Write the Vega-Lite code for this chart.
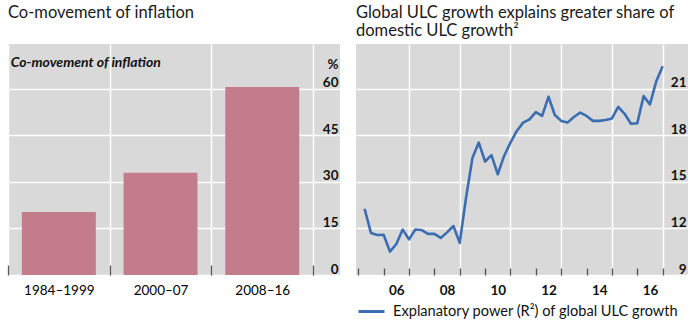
{
  "$schema": "https://vega.github.io/schema/vega-lite/v6.json",
  "background": "white",
  "padding": {"left": 7, "top": 4, "right": 0, "bottom": 0},
  "spacing": 16,
  "bounds": "flush",
  "config": {
    "font": "Lato",
    "view": {"fill": "#d9d9d9", "stroke": null},
    "axis": {"labelFont": "Lato", "titleFont": "Lato", "labelColor": "#111", "labelOverlap": false, "labelFlush": false, "domain": false},
    "axisBand": {"tickBand": "extent"},
    "title": {"font": "Lato", "anchor": "start", "fontSize": 16.5, "fontWeight": "normal", "color": "#1a1a1a", "frame": "group"}
  },
  "hconcat": [
    {
      "width": 332,
      "height": 231,
      "title": {"text": "Co-movement of inflation", "offset": 23},
      "data": {"values": [
        {"period": "1984–1999", "value": 20.3},
        {"period": "2000–07", "value": 33.0},
        {"period": "2008–16", "value": 60.6}
      ]},
      "layer": [
        {
          "mark": {"type": "bar", "color": "#C27C8C", "width": {"band": 0.727}},
          "encoding": {
            "x": {"field": "period", "type": "nominal", "sort": null,
              "scale": {"paddingInner": 0, "paddingOuter": 0.1323, "align": 0},
              "axis": {"title": null, "tickBand": "extent", "grid": true, "gridColor": "white", "gridWidth": 1.5, "gridOpacity": 1,
                "ticks": true, "tickSize": -10, "tickColor": "#555", "tickWidth": 1.3,
                "labelAngle": 0, "labelPadding": 18, "labelFontSize": 13.5, "labelColor": "#000"}},
            "y": {"field": "value", "type": "quantitative",
              "scale": {"domain": [0, 74.5], "nice": false},
              "axis": {"orient": "right", "values": [0, 15, 30, 45, 60], "grid": true, "gridColor": "white", "gridWidth": 1.5, "gridOpacity": 1,
                "ticks": false, "labelAlign": "right", "labelPadding": -2, "labelBaseline": "alphabetic", "labelOffset": -2,
                "labelFontSize": 13.5, "labelFontWeight": "bold",
                "title": "%", "titleAngle": 0, "titleAlign": "right", "titleBaseline": "middle", "titleX": -2, "titleY": 20,
                "titleFontSize": 13.5, "titleFontWeight": "bold", "titleColor": "#111"}}
          }
        },
        {
          "data": {"values": [{"label": "Co-movement of inflation"}]},
          "mark": {"type": "text", "align": "left", "baseline": "middle", "dx": -48, "fontStyle": "italic", "fontWeight": "bold", "fontSize": 14, "color": "#111"},
          "encoding": {
            "text": {"field": "label"},
            "x": {"datum": "1984–1999", "type": "nominal"},
            "y": {"datum": 68.5, "type": "quantitative"}
          }
        }
      ]
    },
    {
      "width": 332,
      "height": 231,
      "title": {"text": ["Global ULC growth explains greater share of", "domestic ULC growth²"], "offset": 5, "lineHeight": 18},
      "data": {"values": [
        {"t": 2005.25, "v": 13.26}, {"t": 2005.5, "v": 11.71}, {"t": 2005.75, "v": 11.58}, {"t": 2006.0, "v": 11.6},
        {"t": 2006.25, "v": 10.51}, {"t": 2006.5, "v": 11.0}, {"t": 2006.75, "v": 11.93}, {"t": 2007.0, "v": 11.3},
        {"t": 2007.25, "v": 11.93}, {"t": 2007.5, "v": 11.9}, {"t": 2007.75, "v": 11.65}, {"t": 2008.0, "v": 11.65},
        {"t": 2008.25, "v": 11.39}, {"t": 2008.5, "v": 11.75}, {"t": 2008.75, "v": 12.16}, {"t": 2009.0, "v": 11.07},
        {"t": 2009.25, "v": 14.0}, {"t": 2009.5, "v": 16.54}, {"t": 2009.75, "v": 17.54}, {"t": 2010.0, "v": 16.32},
        {"t": 2010.25, "v": 16.73}, {"t": 2010.5, "v": 15.5}, {"t": 2010.75, "v": 16.68}, {"t": 2011.0, "v": 17.54},
        {"t": 2011.25, "v": 18.29}, {"t": 2011.5, "v": 18.83}, {"t": 2011.75, "v": 19.04}, {"t": 2012.0, "v": 19.51},
        {"t": 2012.25, "v": 19.26}, {"t": 2012.5, "v": 20.5}, {"t": 2012.75, "v": 19.32}, {"t": 2013.0, "v": 18.94},
        {"t": 2013.25, "v": 18.83}, {"t": 2013.5, "v": 19.19}, {"t": 2013.75, "v": 19.47}, {"t": 2014.0, "v": 19.26},
        {"t": 2014.25, "v": 18.94}, {"t": 2014.5, "v": 18.94}, {"t": 2014.75, "v": 19.0}, {"t": 2015.0, "v": 19.1},
        {"t": 2015.25, "v": 19.84}, {"t": 2015.5, "v": 19.4}, {"t": 2015.75, "v": 18.76}, {"t": 2016.0, "v": 18.79},
        {"t": 2016.25, "v": 20.54}, {"t": 2016.5, "v": 20.0}, {"t": 2016.75, "v": 21.5}, {"t": 2017.0, "v": 22.47}
      ]},
      "mark": {"type": "line", "strokeWidth": 2.6, "strokeJoin": "round"},
      "encoding": {
        "x": {"field": "t", "type": "quantitative",
          "scale": {"domain": [2004.91, 2018.0], "nice": false, "zero": false},
          "axis": {"title": null, "values": [2005, 2006, 2007, 2008, 2009, 2010, 2011, 2012, 2013, 2014, 2015, 2016, 2017],
            "grid": true, "gridWidth": 1.5, "gridOpacity": 1,
            "gridColor": {"condition": {"test": "datum.value % 2 == 1 && datum.value > 2005", "value": "white"}, "value": "transparent"},
            "ticks": true, "tickSize": -7, "tickColor": "#555", "tickWidth": 1.3,
            "labelExpr": "datum.value % 2 == 0 && datum.value < 2017 ? substring(toString(datum.value), 2, 4) : ''",
            "labelOffset": 12.7, "labelPadding": 15, "labelFontSize": 13.5, "labelFontWeight": "bold", "labelAngle": 0}},
        "y": {"field": "v", "type": "quantitative",
          "scale": {"domain": [9, 23.9], "nice": false, "zero": false},
          "axis": {"orient": "right", "title": null, "values": [9, 12, 15, 18, 21], "grid": true, "gridColor": "white", "gridWidth": 1.5, "gridOpacity": 1,
            "ticks": false, "labelAlign": "right", "labelPadding": -2, "labelBaseline": "alphabetic", "labelOffset": -2,
            "labelFontSize": 13.5, "labelFontWeight": "bold"}},
        "color": {"datum": "Explanatory power (R²) of global ULC growth", "type": "nominal",
          "scale": {"range": ["#3B6DB3"]},
          "legend": {"title": null, "orient": "none", "legendX": 349, "legendY": 253, "symbolType": "stroke", "symbolSize": 676,
            "symbolStrokeWidth": 3, "labelFontSize": 14.6, "labelFont": "Lato", "labelColor": "#111", "labelLimit": 400, "labelOffset": 7, "padding": 0}}
      }
    }
  ]
}
